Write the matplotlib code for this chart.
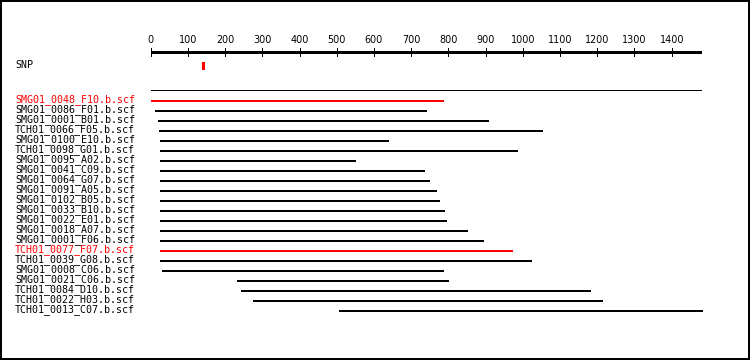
import matplotlib.pyplot as plt
from matplotlib.patches import Rectangle

# reads shown against the reference, in display order
read_names = [
    "SMG01_0048_F10.b.scf", "SMG01_0086_F01.b.scf", "SMG01_0001_B01.b.scf",
    "TCH01_0066_F05.b.scf", "SMG01_0100_E10.b.scf", "TCH01_0098_G01.b.scf",
    "SMG01_0095_A02.b.scf", "SMG01_0041_C09.b.scf", "SMG01_0064_G07.b.scf",
    "SMG01_0091_A05.b.scf", "SMG01_0102_B05.b.scf", "SMG01_0033_B10.b.scf",
    "SMG01_0022_E01.b.scf", "SMG01_0018_A07.b.scf", "SMG01_0001_F06.b.scf",
    "TCH01_0077_F07.b.scf", "TCH01_0039_G08.b.scf", "SMG01_0008_C06.b.scf",
    "SMG01_0021_C06.b.scf", "TCH01_0084_D10.b.scf", "TCH01_0022_H03.b.scf",
    "TCH01_0013_C07.b.scf",
]
read_starts = [0, 12, 20, 22, 25, 25, 25, 25, 25, 25, 25, 25, 25, 25, 25, 25,
               25, 30, 232, 243, 275, 506]
read_ends = [787, 742, 909, 1054, 640, 987, 552, 737, 751, 769, 777, 791, 796,
             853, 896, 974, 1025, 788, 802, 1183, 1216, 1484]
highlighted = ["SMG01_0048_F10.b.scf", "TCH01_0077_F07.b.scf"]

snp_positions = [140]
ruler_ticks = list(range(0, 1500, 100))
ruler_length = 1478

W, H = 750, 360
px = 72 / 100  # points per pixel

fig = plt.figure(figsize=(W / 100, H / 100), dpi=100)
ax = fig.add_axes([0, 0, 1, 1])
ax.axis("off")

# map: 0 -> 150.7px, 1400 -> 671.7px ; row i -> 100.7 + 10*i px
scale = (671.7 - 150.7) / 1400
ax.set_xlim(-150.7 / scale, (W - 150.7) / scale)
ax.set_ylim((H - 100.7) / 10, -100.7 / 10)

def row_of(p):
    return (p - 100.7) / 10

# ruler
ruler_y = row_of(51.8)
ax.plot([0, ruler_length], [ruler_y, ruler_y], color="black", lw=3 * px,
        solid_capstyle="butt", antialiased=False)
ax.vlines(ruler_ticks, row_of(48), row_of(55.5), color="black", lw=1 * px,
          antialiased=False)
for t in ruler_ticks:
    ax.text(t, row_of(39.5), str(t), ha="center", va="center", fontsize=6.9,
            family="DejaVu Sans")

# SNP track
snp_y = row_of(65)
ax.text(15 / W, snp_y, "SNP", transform=ax.get_yaxis_transform(),
        ha="left", va="center", fontsize=7.2, family="DejaVu Sans Mono")
ax.vlines(snp_positions, snp_y - 0.35, snp_y + 0.35, color="#ff0000",
          lw=3 * px, antialiased=False)

# separator
sep_y = row_of(90.3)
ax.plot([0, ruler_length], [sep_y, sep_y], color="black", lw=1 * px,
        antialiased=False)

# reads
for i, (name, s, e) in enumerate(zip(read_names, read_starts, read_ends)):
    color = "#ff0000" if name in highlighted else "black"
    ax.plot([s, e], [i, i], color=color, lw=2 * px, solid_capstyle="butt",
            antialiased=False)
    ax.text(15 / W, i - 0.1, name, transform=ax.get_yaxis_transform(),
            ha="left", va="center", fontsize=7.2, family="DejaVu Sans Mono",
            color=color)

# frame
fig.patches.append(Rectangle((0, 0), 1, 1, transform=fig.transFigure,
                             fill=False, edgecolor="black", lw=4 * px))

fig.savefig("out.png", dpi=100, facecolor="white")
